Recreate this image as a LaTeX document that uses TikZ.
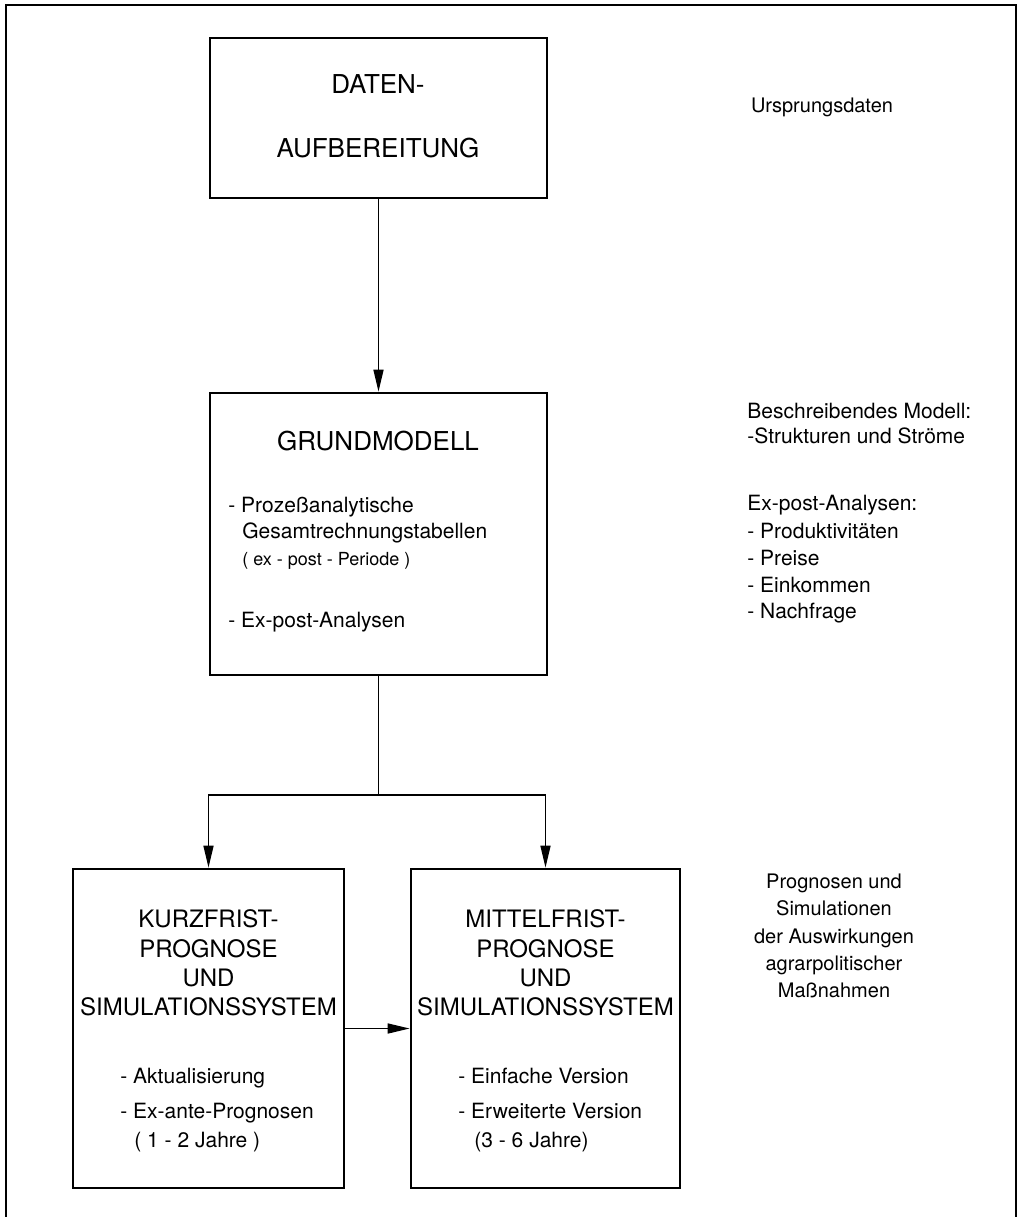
\documentclass[tikz,border=0pt]{standalone}
\usepackage{fontspec}
\setmainfont{TeX Gyre Heros}
\usetikzlibrary{arrows.meta, positioning}

\begin{document}
\begin{tikzpicture}[x=0.5pt, y=-0.5pt,
    every node/.style={inner sep=0pt, font=\fontsize{10.5}{13.5}\selectfont},
    box/.style={draw, line width=1.35pt},
    title/.style={anchor=mid, font=\fontsize{13}{16}\selectfont},
    subtitle/.style={anchor=north, align=center, font=\fontsize{12}{14.65}\selectfont},
    item/.style={anchor=mid west},
    conn/.style={line width=0.75pt},
    arr/.style={conn, -{Triangle[length=11pt, width=5pt]}},
  ]
  \useasboundingbox (0,0) rectangle (1019,1217);
  \draw[line width=1pt] (6,1217) -- (6,5) -- (1016,5) -- (1016,1217);

  \node[box, minimum width=168.5pt, minimum height=80pt] (daten) at (378.5,118) {};
  \node[title] (datenA) at (378,88) {DATEN-};
  \node[title] (datenB) at (378,152) {AUFBEREITUNG};
  \node[anchor=mid, font=\fontsize{10}{12}\selectfont] (urspr) at (822,107) {Ursprungsdaten};

  \node[box, minimum width=168.5pt, minimum height=141pt] (grund) at (378.5,534) {};
  \node[title] (grundT) at (378,445) {GRUNDMODELL};
  \node[item] (grundA) at (228,507) {- Prozeßanalytische};
  \node[item] (grundB) at (242,533) {Gesamtrechnungstabellen};
  \node[item, font=\fontsize{9}{11}\selectfont] (grundC) at (242,560) {( ex - post - Periode )};
  \node[item] (grundD) at (228,622) {- Ex-post-Analysen};

  \node[item] (beschA) at (747,413) {Beschreibendes Modell:};
  \node[item] (beschB) at (747,438) {-Strukturen und Ströme};
  \node[item] (expostA) at (747,505) {Ex-post-Analysen:};
  \node[item] (expostB) at (747,533) {- Produktivitäten};
  \node[item] (expostC) at (747,560) {- Preise};
  \node[item] (expostD) at (747,587) {- Einkommen};
  \node[item] (expostE) at (747,613) {- Nachfrage};

  \node[box, minimum width=135.5pt, minimum height=159.5pt] (kurz) at (208.5,1028.5) {};
  \node[subtitle] (kurzT) at (208.5,909.4) {KURZFRIST-\\PROGNOSE\\UND\\SIMULATIONSSYSTEM};
  \node[item] (kurzA) at (120,1078.6) {- Aktualisierung};
  \node[item] (kurzB) at (120,1113) {- Ex-ante-Prognosen};
  \node[item] (kurzC) at (134,1142) {( 1 - 2 Jahre )};

  \node[box, minimum width=134.5pt, minimum height=159.5pt] (mittel) at (545.5,1028.5) {};
  \node[subtitle] (mittelT) at (545.5,909.4) {MITTELFRIST-\\PROGNOSE\\UND\\SIMULATIONSSYSTEM};
  \node[item] (mittelA) at (458,1078.6) {- Einfache Version};
  \node[item] (mittelB) at (458,1113) {- Erweiterte Version};
  \node[item] (mittelC) at (474,1142) {(3 - 6 Jahre)};

  \node[anchor=north, align=center, font=\fontsize{10}{13.6}\selectfont] (progn) at (834,873.8)
    {Prognosen und\\Simulationen\\der Auswirkungen\\agrarpolitischer\\Maßnahmen};

  \coordinate (split) at (378.5,795);
  \draw[arr] (daten) -- (grund);
  \draw[conn] (grund) -- (split);
  \draw[arr] (split) -| (kurz);
  \draw[arr] (split) -| (mittel);
  \draw[arr] (kurz) -- (mittel);
\end{tikzpicture}
\end{document}
